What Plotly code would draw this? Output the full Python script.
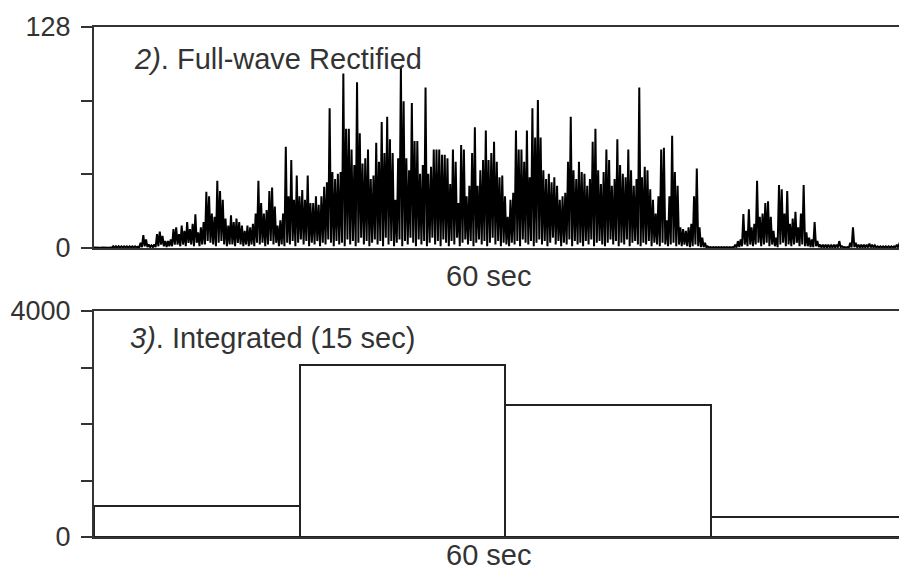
import plotly.graph_objects as go

# ---- data -------------------------------------------------------------
SAMPLE_DT = 0.2  # seconds between rectified peaks

rect_peaks = [
    0.3, 0.3, 0.3, 0.3, 0.3, 0.3, 0.3, 1, 1, 1,
    1, 1, 1, 1, 1, 1, 0.8, 3, 7.5, 5,
    2, 1.5, 2, 8, 9.5, 7, 4, 4, 5, 11,
    12, 8, 13, 10, 15, 11, 14, 19.5, 9, 12,
    15, 32.6, 30, 20, 18, 39, 33, 28, 17, 13,
    19, 15, 17, 15, 13, 10, 13, 12, 14, 20,
    39, 26, 20, 22, 33, 35, 24, 13, 16, 20,
    58.7, 30, 51, 28, 42, 30, 33.6, 28, 42, 26,
    26, 30, 25, 30, 35.5, 38, 81, 44, 40, 43,
    44, 101, 69, 69, 57, 48, 96, 66.5, 49, 52,
    57, 40, 42, 61, 50, 73, 55, 76, 63, 55,
    28, 52, 105, 85, 52, 45, 84, 62, 62, 43,
    48, 93, 43, 47, 57, 57, 57, 54, 54, 52,
    37, 57, 50, 26, 59.6, 57, 30, 36, 55, 70,
    36, 45, 51, 68, 51, 55, 61.5, 50, 41, 42,
    30, 18, 28, 32, 68, 57, 57, 50, 68, 41,
    81, 64, 85.7, 64, 45, 40, 43, 38, 41, 36,
    28, 30, 32, 50, 76, 45, 40, 50, 44, 43,
    36, 40, 61.5, 69, 45, 37, 44, 57, 51, 36,
    40, 63, 48, 43, 41, 57, 45, 36, 40, 93,
    41, 47, 45, 34, 28, 20, 30, 57, 58, 16,
    30, 65, 44, 36, 12, 11, 10, 12, 14, 30,
    46, 12, 6, 3, 1, 0.5, 0.5, 0.5, 0.5, 0.5,
    0.5, 0.5, 0.5, 0.5, 2, 4, 5, 19.7, 10, 22.4,
    12, 14, 39, 18, 20, 26, 27, 18, 10, 6,
    36.5, 34, 20, 33, 14, 17, 21, 12, 20, 36.5,
    9, 6, 5, 15, 4, 2, 2, 2, 2, 1.5,
    2, 2, 4, 1, 0.5, 0.5, 3, 12, 3, 2,
    2, 2, 2, 2.5, 2, 1.5, 1, 1, 1, 1,
    1, 1, 1, 2, 3, 5, 18, 24,
]

rect_troughs = [
    0.2, 0.2, 0.2, 0.2, 0.2, 0.2, 0.2, 0.2, 0.2, 0.2,
    0.3, 0.3, 0.3, 0.3, 0.3, 0.3, 0.3, 0.5, 1, 0.5,
    0.5, 0.5, 0.5, 1, 2, 1, 0.5, 1, 1, 2,
    2, 1, 2, 1, 3, 2, 1, 3, 1, 2,
    2, 4, 3, 2, 1, 3, 4, 2, 1, 2,
    2, 1, 3, 2, 1, 2, 1, 2, 1, 3,
    2, 3, 1, 2, 4, 2, 3, 1, 2, 1,
    3, 2, 4, 1, 3, 5, 2, 4, 1, 3,
    2, 4, 1, 3, 2, 5, 3, 1, 4, 2,
    3, 1, 5, 2, 4, 1, 3, 6, 2, 4,
    1, 3, 5, 2, 4, 1, 6, 2, 4, 1,
    3, 5, 1, 4, 2, 6, 3, 1, 5, 2,
    4, 1, 3, 6, 2, 4, 1, 5, 3, 1,
    4, 2, 6, 1, 3, 5, 2, 4, 1, 3,
    5, 2, 4, 1, 3, 6, 2, 4, 1, 3,
    2, 1, 3, 2, 4, 1, 5, 3, 2, 4,
    1, 3, 5, 2, 4, 1, 3, 6, 2, 4,
    1, 3, 2, 5, 1, 4, 2, 3, 1, 4,
    2, 5, 1, 3, 4, 2, 1, 3, 5, 2,
    4, 1, 3, 2, 5, 1, 3, 4, 2, 1,
    3, 2, 4, 1, 3, 2, 1, 3, 2, 1,
    2, 3, 1, 2, 1, 2, 1, 0.5, 1, 2,
    1, 0.5, 0.5, 0.3, 0.2, 0.2, 0.2, 0.2, 0.2, 0.2,
    0.2, 0.2, 0.2, 0.2, 0.3, 0.5, 1, 2, 1, 2,
    1, 2, 3, 1, 2, 3, 1, 2, 1, 0.5,
    2, 3, 1, 2, 1, 2, 3, 1, 2, 1,
    1, 0.5, 0.5, 1, 0.5, 0.3, 0.3, 0.3, 0.3, 0.3,
    0.3, 0.3, 0.5, 0.3, 0.2, 0.2, 0.3, 0.5, 0.3, 0.3,
    0.3, 0.3, 0.3, 0.3, 0.3, 0.3, 0.3, 0.3, 0.3, 0.3,
    0.3, 0.3, 0.3, 0.3, 0.5, 1, 2, 3,
]

bin_starts = [0, 15, 30, 45]          # seconds
bin_values = [540, 3040, 2340, 350]   # integrated value per 15 s bin
BIN_WIDTH = 15

top_ticks = [0, 128 / 3, 256 / 3, 128]
top_tick_text = ["0", "", "", "128"]
bot_ticks = [0, 1000, 2000, 3000, 4000]
bot_tick_text = ["0", "", "", "", "4000"]

# ---- build the zig-zag rectified trace --------------------------------
sig_x, sig_y = [], []
for i, (p, t) in enumerate(zip(rect_peaks, rect_troughs)):
    sig_x += [i * SAMPLE_DT, i * SAMPLE_DT + SAMPLE_DT / 2]
    sig_y += [p, t]

INK = "#333333"
FONT = "Liberation Sans, Arial, sans-serif"
H = 576.0
OFF = 8  # page body offset

fig = go.Figure()
fig.add_trace(go.Scatter(x=sig_x, y=sig_y, mode="lines",
                         line=dict(color="black", width=2),
                         xaxis="x", yaxis="y", hoverinfo="skip"))
fig.add_trace(go.Bar(x=bin_starts, y=bin_values, width=BIN_WIDTH, offset=0,
                     marker=dict(color="white", line=dict(color="#222222", width=2)),
                     xaxis="x2", yaxis="y2"))

LEFT = 94 - OFF
XMAX = (907 - LEFT) / 13.7
common_x = dict(range=[0, XMAX], showline=True, mirror=True, linecolor=INK,
                linewidth=2, showticklabels=False, ticks="", showgrid=False,
                zeroline=False, fixedrange=True, automargin=False)
common_y = dict(showline=True, linecolor=INK, linewidth=2, ticks="outside",
                ticklen=11, tickwidth=2, tickcolor=INK, showgrid=False,
                zeroline=False, tickfont=dict(family=FONT, size=27, color=INK),
                ticklabelstandoff=5, automargin=False)


def py(screen_y):
    return 1 - (screen_y - OFF) / H


fig.update_layout(
    width=907, height=576, autosize=False,
    margin=dict(l=LEFT, r=0, t=0, b=0, pad=0, autoexpand=False),
    paper_bgcolor="white", plot_bgcolor="white",
    showlegend=False, bargap=0,
    xaxis=dict(domain=[0, 1], anchor="y", **common_x),
    yaxis=dict(domain=[py(248), py(27)], anchor="x", range=[0, 128],
               tickvals=top_ticks, ticktext=top_tick_text, **common_y),
    xaxis2=dict(domain=[0, 1], anchor="y2", **common_x),
    yaxis2=dict(domain=[py(537), py(311)], anchor="x2", range=[0, 4000],
                tickvals=bot_ticks, ticktext=bot_tick_text, **common_y),
)

ann_font = dict(family=FONT, size=29, color=INK)
fig.add_annotation(text="<i>2)</i>. Full-wave Rectified", x=2.75, xref="x",
                   y=py(59), yref="paper", xanchor="left", yanchor="middle",
                   showarrow=False, font=ann_font)
fig.add_annotation(text="60 sec", x=28.8, xref="x", y=py(276), yref="paper",
                   xanchor="center", yanchor="middle", showarrow=False, font=ann_font)
fig.add_annotation(text="<i>3)</i>. Integrated (15 sec)", x=2.45, xref="x2",
                   y=py(338), yref="paper", xanchor="left", yanchor="middle",
                   showarrow=False, font=ann_font)
fig.add_annotation(text="60 sec", x=28.8, xref="x2", y=py(555), yref="paper",
                   xanchor="center", yanchor="middle", showarrow=False, font=ann_font)

fig.write_html("out.html")
